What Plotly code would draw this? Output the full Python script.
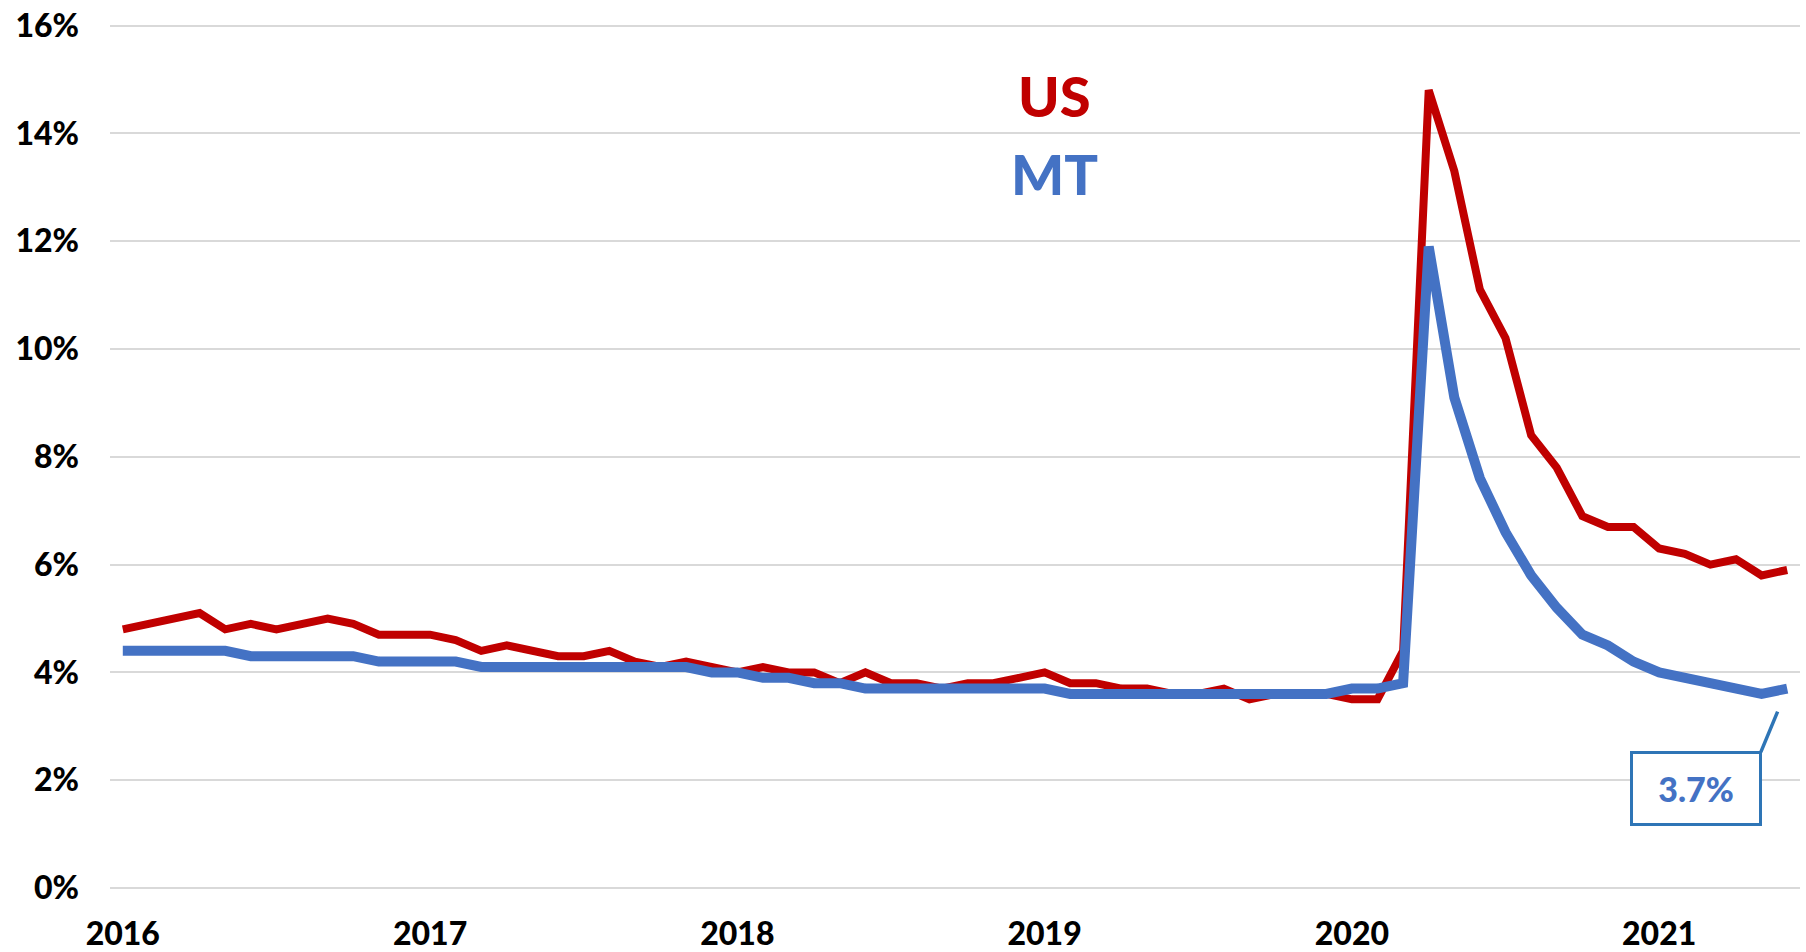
import plotly.graph_objects as go

# ---- data -------------------------------------------------------------
years = [2016, 2017, 2018, 2019, 2020, 2021]
months = [f"{y}-{m:02d}" for y in years for m in range(1, 13)][:66]

us_rate = (
    [4.8, 4.9, 5.0, 5.1, 4.8, 4.9, 4.8, 4.9, 5.0, 4.9, 4.7, 4.7]      # 2016
    + [4.7, 4.6, 4.4, 4.5, 4.4, 4.3, 4.3, 4.4, 4.2, 4.1, 4.2, 4.1]    # 2017
    + [4.0, 4.1, 4.0, 4.0, 3.8, 4.0, 3.8, 3.8, 3.7, 3.8, 3.8, 3.9]    # 2018
    + [4.0, 3.8, 3.8, 3.7, 3.7, 3.6, 3.6, 3.7, 3.5, 3.6, 3.6, 3.6]    # 2019
    + [3.5, 3.5, 4.4, 14.8, 13.3, 11.1, 10.2, 8.4, 7.8, 6.9, 6.7, 6.7]  # 2020
    + [6.3, 6.2, 6.0, 6.1, 5.8, 5.9]                                  # 2021
)
mt_rate = (
    [4.4, 4.4, 4.4, 4.4, 4.4, 4.3, 4.3, 4.3, 4.3, 4.3, 4.2, 4.2]      # 2016
    + [4.2, 4.2, 4.1, 4.1, 4.1, 4.1, 4.1, 4.1, 4.1, 4.1, 4.1, 4.0]    # 2017
    + [4.0, 3.9, 3.9, 3.8, 3.8, 3.7, 3.7, 3.7, 3.7, 3.7, 3.7, 3.7]    # 2018
    + [3.7, 3.6, 3.6, 3.6, 3.6, 3.6, 3.6, 3.6, 3.6, 3.6, 3.6, 3.6]    # 2019
    + [3.7, 3.7, 3.8, 11.9, 9.1, 7.6, 6.6, 5.8, 5.2, 4.7, 4.5, 4.2]   # 2020
    + [4.0, 3.9, 3.8, 3.7, 3.6, 3.7]                                  # 2021
)
tick_vals = [f"{y}-01" for y in years]
tick_text = [str(y) for y in years]
y_ticks = [0, 2, 4, 6, 8, 10, 12, 14, 16]
y_text = [f"{v}%" for v in y_ticks]

RED = "#C00000"
BLUE = "#4472C4"
FONT = "Lato"

fig = go.Figure()
fig.add_trace(go.Scatter(x=months, y=us_rate, mode="lines", name="US",
                         line=dict(color=RED, width=8), showlegend=False))
fig.add_trace(go.Scatter(x=months, y=mt_rate, mode="lines", name="MT",
                         line=dict(color=BLUE, width=10), showlegend=False))

# series labels
fig.add_annotation(xref="paper", yref="paper", x=0.559, y=0.917, text="US",
                   xanchor="center", yanchor="middle",
                   showarrow=False, font=dict(family=FONT, size=56, color=RED, weight=900))
fig.add_annotation(xref="paper", yref="paper", x=0.559, y=0.8275, text="MT",
                   xanchor="center", yanchor="middle",
                   showarrow=False, font=dict(family=FONT, size=56, color=BLUE, weight=900))

# data label for last MT value
fig.add_annotation(x=months[-1], y=mt_rate[-1], text=f"{mt_rate[-1]:.1f}%",
                   showarrow=False, xshift=-91, yshift=-100,
                   xanchor="center", yanchor="middle",
                   width=126, height=69, borderpad=0,
                   bordercolor="#2E75B6", borderwidth=3, bgcolor="white",
                   font=dict(family=FONT, size=34, color=BLUE, weight=900))
fig.add_annotation(x=months[-1], y=mt_rate[-1], text="",
                   showarrow=True, arrowhead=0, arrowwidth=3.5, arrowcolor="#2E75B6",
                   ax=-27, ay=65, standoff=25)

fig.update_layout(
    width=1806, height=952,
    margin=dict(l=110, r=6, t=24, b=64, autoexpand=False),
    paper_bgcolor="white", plot_bgcolor="white",
    font=dict(family=FONT, color="black"),
)
fig.update_xaxes(type="category", range=[-0.5, 65.5], tickvals=tick_vals, ticktext=tick_text,
                 showgrid=False, zeroline=False, showline=False, ticks="", automargin=False,
                 tickfont=dict(family=FONT, size=32, color="black", weight=900),
                 ticklabelstandoff=24)
fig.update_yaxes(range=[0, 16.03], tickvals=y_ticks, ticktext=y_text,
                 showgrid=True, gridcolor="#D9D9D9", gridwidth=1.5,
                 zeroline=True, zerolinecolor="#D9D9D9", zerolinewidth=1.5,
                 showline=False, ticks="", automargin=False,
                 tickfont=dict(family=FONT, size=32, color="black", weight=900),
                 ticklabelstandoff=30)

fig.write_html("out.html", config={"displayModeBar": False},
               post_script="document.body.style.margin='0';document.body.style.overflow='hidden';")
